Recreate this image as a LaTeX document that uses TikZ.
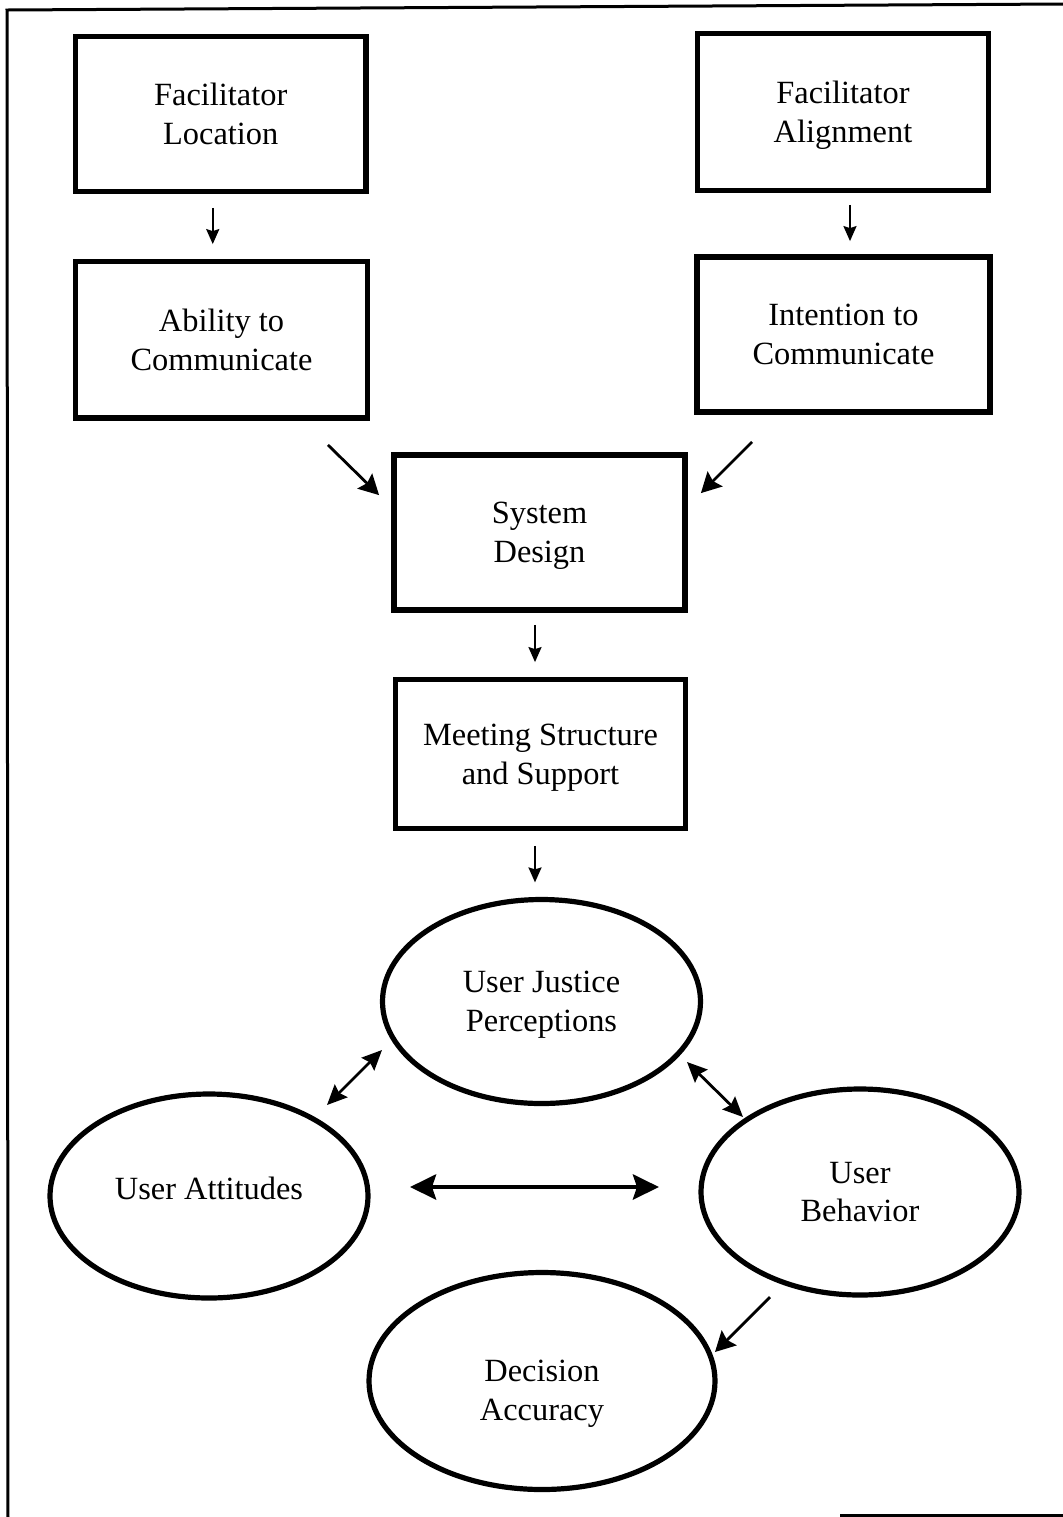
\documentclass[tikz,border=0pt]{standalone}
\usepackage{fontspec}
\setmainfont{Liberation Serif}
\usetikzlibrary{arrows.meta,shapes.geometric,calc}

\tikzset{
  txt/.style={font=\fontsize{16.2pt}{19.3pt}\selectfont, align=center, inner sep=0pt, text depth=0pt},
  stagebox/.style={txt, draw, rectangle, line width=2.9pt},
  outcome/.style={txt, draw, ellipse, line width=2.6pt},
  smallarrow/.style={line width=1.1pt, -{Stealth[length=7.5pt,width=6.5pt,inset=1pt]}},
  diagarrow/.style={line width=1.4pt, -{Stealth[length=10pt,width=10.5pt,inset=1.5pt]}},
  twoway/.style={line width=1.4pt, {Stealth[length=10pt,width=9pt,inset=1.4pt]}-{Stealth[length=10pt,width=9pt,inset=1.4pt]}},
  bigtwoway/.style={line width=2.3pt, {Stealth[length=13pt,width=12.5pt,inset=2pt]}-{Stealth[length=13pt,width=12.5pt,inset=2pt]}},
  frameline/.style={line width=1.5pt}
}

\begin{document}
\begin{tikzpicture}[x=0.5pt,y=-0.5pt]
\useasboundingbox (0,0) rectangle (1063,1517);

% surrounding frame
\draw[frameline] (1063,4) -- (7,10) -- (8,1517);
\draw[frameline] (840,1515.5) -- (1063,1515.5);

% rectangular stages
\node[stagebox, minimum width=145.25pt, minimum height=77.5pt] (loc) at (220.75,114) {Facilitator\\Location};
\node[stagebox, minimum width=145.5pt, minimum height=78.5pt] (aln) at (843,112) {Facilitator\\Alignment};
\node[stagebox, minimum width=146pt, minimum height=78.25pt] (abl) at (221.5,339.75) {Ability to\\Communicate};
\node[stagebox, minimum width=146.5pt, minimum height=77.5pt] (int) at (843.5,334.5) {Intention to\\Communicate};
\node[stagebox, minimum width=145.5pt, minimum height=77.5pt] (sys) at (539.5,532.5) {System\\Design};
\node[stagebox, minimum width=145pt, minimum height=74.5pt] (mtg) at (540.5,754) {Meeting Structure\\and Support};

% elliptical outcomes
\node[outcome, minimum width=159pt, minimum height=102pt] (ujp) at (541.5,1001.5) {User Justice\\Perceptions};
\node[outcome, minimum width=159pt, minimum height=102pt,
      label={[txt, yshift=4pt]center:User Attitudes}] (ua) at (209,1196) {};
\node[outcome, minimum width=159pt, minimum height=103pt] (ub) at (860,1192) {User\\Behavior};
\node[outcome, minimum width=173pt, minimum height=108.5pt,
      label={[txt, yshift=-4.5pt]center:{Decision\\Accuracy}}] (da) at (542,1381) {};

% flow between stages
\draw[smallarrow, shorten <=6.75pt, shorten >=7.25pt]
  ([xshift=-4pt]loc.south) -- ([xshift=-4pt]loc.south |- abl.north);
\draw[smallarrow, shorten <=5.75pt, shorten >=6.5pt]
  ([xshift=3.5pt]aln.south) -- ([xshift=3.5pt]aln.south |- int.north);
\draw[diagarrow] ($(abl.south east)+(-42.5,24)$) -- ($(sys.north west)+(-12,43)$);
\draw[diagarrow] ($(int.south west)+(58,27)$) -- ($(sys.north east)+(13,41)$);
\draw[smallarrow, shorten <=6pt, shorten >=7.25pt]
  ([xshift=-2.25pt]sys.south) -- ([xshift=-2.25pt]sys.south |- mtg.north);
\draw[smallarrow, shorten <=7.25pt, shorten >=7.25pt]
  ([xshift=-2.75pt]mtg.south) -- ([xshift=-2.75pt]mtg.south |- ujp.north);

% relations among outcomes
\draw[twoway] ($(ujp.center)+(-159.5,48.5)$) -- ($(ua.center)+(118,-91)$);
\draw[twoway] ($(ujp.center)+(145.5,60.5)$) -- ($(ub.center)+(-117,-75)$);
\draw[bigtwoway] ($(ua.center)+(201,-9)$) -- ($(ub.center)+(-201,-5)$);
\draw[diagarrow] ($(ub.center)+(-90,105)$) -- ($(da.center)+(173,-29)$);
\end{tikzpicture}
\end{document}
